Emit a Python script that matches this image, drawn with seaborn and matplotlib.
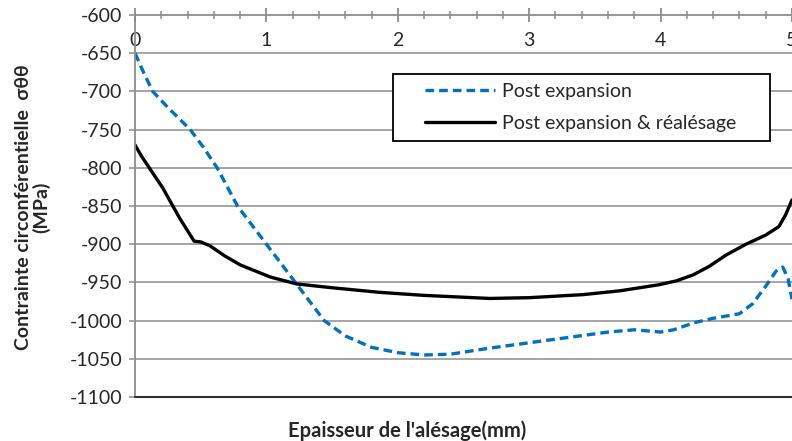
import numpy as np
import pandas as pd
import matplotlib
matplotlib.use("Agg")
import matplotlib.pyplot as plt
import seaborn as sns
from matplotlib.ticker import MultipleLocator
from matplotlib.patches import Rectangle

# valeurs
x_post = [0, 0.07, 0.135, 0.25, 0.42, 0.52, 0.625, 0.78, 1.0, 1.22, 1.44, 1.6, 1.8, 2.0, 2.2,
          2.4, 2.7, 3.0, 3.3, 3.6, 3.8, 4.0, 4.1, 4.25, 4.4, 4.6, 4.7, 4.8, 4.88, 4.93, 4.97, 5.0]
y_post = [-650, -677, -700, -721, -750, -773, -800, -850, -900, -950, -1000, -1020, -1035, -1042, -1045,
          -1044, -1036, -1029, -1022, -1015, -1012, -1015, -1012, -1003, -997, -991, -978, -955, -935, -930, -945, -972]

x_real = [0, 0.05, 0.12, 0.21, 0.34, 0.45, 0.5, 0.57, 0.68, 0.8, 1.03, 1.23, 1.5, 1.86, 2.2,
          2.7, 3.0, 3.41, 3.69, 3.99, 4.12, 4.25, 4.37, 4.5, 4.65, 4.8, 4.9, 4.95, 5.0]
y_real = [-770, -785, -803, -826, -866, -896, -897, -902, -915, -927, -943, -952, -957, -963, -967,
          -971, -970, -966, -961, -953, -948, -940, -929, -914, -900, -888, -877, -862, -842]

labels = ["Post expansion", "Post expansion & réalésage"]
y_ticks = list(range(-1100, -599, 50))
x_ticks = [0, 1, 2, 3, 4, 5]

sns.set_style("white")
plt.rcParams['font.family'] = ['Lato', 'DejaVu Sans']
plt.rcParams['axes.unicode_minus'] = False

fig = plt.figure(figsize=(7.92, 4.41), dpi=100)
ax = fig.add_axes([135 / 792, 1 - 397 / 441, 1 - 135 / 792, (397 - 15) / 441])

grid_col = "#8c8c8c"
for yv in y_ticks[1:-1]:
    ax.axhline(yv, color=grid_col, lw=1.1, zorder=0)

df_post = pd.DataFrame({"x": x_post, "y": y_post})
df_real = pd.DataFrame({"x": x_real, "y": y_real})
sns.lineplot(data=df_post, x="x", y="y", ax=ax, color="#0070C0", lw=2.4,
             linestyle=(0, (2.6, 1.5)), label=labels[0], sort=False)
sns.lineplot(data=df_real, x="x", y="y", ax=ax, color="black", lw=2.4,
             label=labels[1], sort=False)

ax.set_xlim(0, 5)
ax.set_ylim(-1100, -600)
ax.set_yticks(y_ticks)
ax.set_xticks(x_ticks)
ax.xaxis.set_minor_locator(MultipleLocator(0.2))

# axe des x en haut (croise a -600), etiquettes sous la ligne
ax.spines['bottom'].set_position(('data', -600))
ax.spines['bottom'].set_color(grid_col)
ax.spines['bottom'].set_linewidth(1.3)
ax.spines['top'].set_visible(False)
ax.spines['right'].set_visible(False)
ax.spines['left'].set_color(grid_col)
ax.spines['left'].set_linewidth(1.3)
ax.axhline(-1100, color="#303030", lw=1.5, clip_on=False, zorder=3)

ax.tick_params(axis='x', which='major', direction='inout', length=10, width=1.3,
               color=grid_col, labelsize=14, pad=7, bottom=True)
ax.tick_params(axis='x', which='minor', direction='inout', length=6, width=1.1,
               color=grid_col, bottom=True)
ax.tick_params(axis='y', direction='out', length=4, width=1.1, color=grid_col,
               labelsize=14, pad=5, left=True)

ax.set_xlabel("")
ax.set_ylabel("")
fig.text(33 / 792, 1 - 207 / 441, "Contrainte circonférentielle  σθθ\n(MPa)", fontsize=14,
         fontweight='bold', rotation=90, ha='center', va='center', linespacing=1.0,
         multialignment='center')
fig.text(407 / 792, 1 - 431 / 441, "Epaisseur de l'alésage(mm)", fontsize=14.5,
         fontweight='bold', ha='center', va='center')

# cadre de la legende (marge a gauche comme dans Excel)
ax.add_patch(Rectangle((393 / 792, 1 - 141 / 441), (770 - 393) / 792, (141 - 74) / 441,
                       transform=fig.transFigure, facecolor="white", edgecolor="black",
                       lw=1.3, zorder=4.5, clip_on=False))
leg = ax.legend(loc='center left', bbox_to_anchor=(425 / 792, 1 - 107.5 / 441),
                bbox_transform=fig.transFigure, borderaxespad=0, fontsize=14,
                frameon=False, handlelength=3.6, handletextpad=0.35,
                borderpad=0, labelspacing=0.75)
leg.set_zorder(6)

fig.savefig("out.png", dpi=100)
